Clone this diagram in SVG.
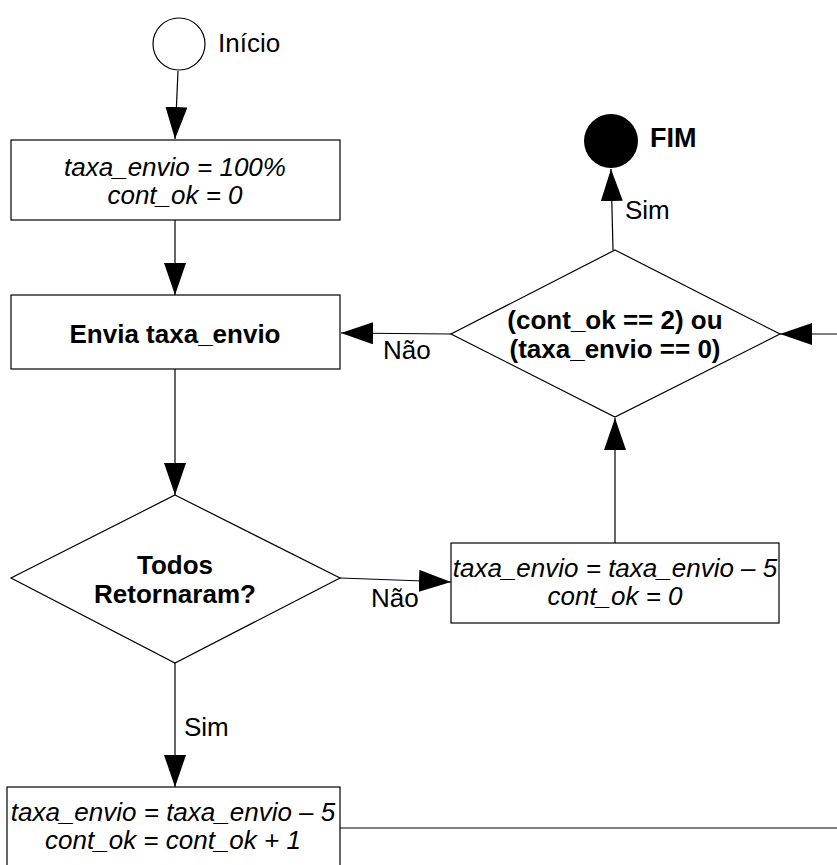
<svg xmlns="http://www.w3.org/2000/svg" width="837" height="865" viewBox="0 0 837 865">
<style>
.shape{fill:#fff;stroke:#000;stroke-width:1.2}
.t{font-family:"Liberation Sans",Arial,sans-serif;font-size:26px;fill:#000}
.i{font-style:italic}
.b{font-weight:bold}
.m{text-anchor:middle}
.c{fill:none;stroke:#000;stroke-width:1.2}
</style>
<defs>
<marker id="ah" viewBox="0 0 32 22" refX="32" refY="11" markerWidth="32" markerHeight="22" markerUnits="userSpaceOnUse" orient="auto">
<polygon points="0,0 32,11 0,22" fill="#000"/>
</marker>
</defs>
<rect width="837" height="865" fill="#fff"/>
<g id="connectors">
<line class="c" x1="178" y1="71" x2="175" y2="139" marker-end="url(#ah)"/>
<line class="c" x1="175" y1="220" x2="175" y2="295" marker-end="url(#ah)"/>
<line class="c" x1="175" y1="369" x2="175" y2="495" marker-end="url(#ah)"/>
<line class="c" x1="340" y1="578" x2="451" y2="582" marker-end="url(#ah)"/>
<text class="t" x="371" y="607">Não</text>
<line class="c" x1="175" y1="663" x2="175" y2="787" marker-end="url(#ah)"/>
<text class="t" x="184" y="736">Sim</text>
<line class="c" x1="615" y1="543" x2="615" y2="418" marker-end="url(#ah)"/>
<line class="c" x1="451" y1="334" x2="341" y2="333" marker-end="url(#ah)"/>
<text class="t" x="383" y="359">Não</text>
<line class="c" x1="837" y1="334" x2="780" y2="334" marker-end="url(#ah)"/>
<line class="c" x1="613" y1="250" x2="611" y2="169" marker-end="url(#ah)"/>
<text class="t" x="625" y="219">Sim</text>
<line class="c" x1="340" y1="828" x2="837" y2="828"/>
</g>
<g id="inicio">
<circle class="shape" cx="179" cy="44" r="26"/>
<text class="t" x="218" y="52">Início</text>
</g>
<g id="init">
<rect class="shape" x="11" y="140" width="329" height="80"/>
<text class="t i m" x="175" y="176">taxa_envio = 100%</text>
<text class="t i m" x="175" y="204">cont_ok = 0</text>
</g>
<g id="envia">
<rect class="shape" x="11" y="295" width="329" height="74"/>
<text class="t b m" x="175" y="343">Envia taxa_envio</text>
</g>
<g id="todos">
<polygon class="shape" points="175,495 340,578 175,663 11,578"/>
<text class="t b m" x="175" y="574">Todos</text>
<text class="t b m" x="175" y="603">Retornaram?</text>
</g>
<g id="dec5">
<rect class="shape" x="451" y="543" width="328" height="80"/>
<text class="t i m" x="615" y="577">taxa_envio = taxa_envio – 5</text>
<text class="t i m" x="615" y="605">cont_ok = 0</text>
</g>
<g id="cond">
<polygon class="shape" points="615,250 780,334 615,417 451,334"/>
<text class="t b m" x="615" y="329">(cont_ok == 2) ou</text>
<text class="t b m" x="615" y="358">(taxa_envio == 0)</text>
</g>
<g id="fim">
<circle cx="611" cy="141" r="27" fill="#000"/>
<text class="t b" x="650" y="147" style="font-size:27px">FIM</text>
</g>
<g id="ok">
<rect class="shape" x="7" y="787" width="333" height="90"/>
<text class="t i m" x="173" y="821">taxa_envio = taxa_envio – 5</text>
<text class="t i m" x="173" y="849">cont_ok = cont_ok + 1</text>
</g>
</svg>
